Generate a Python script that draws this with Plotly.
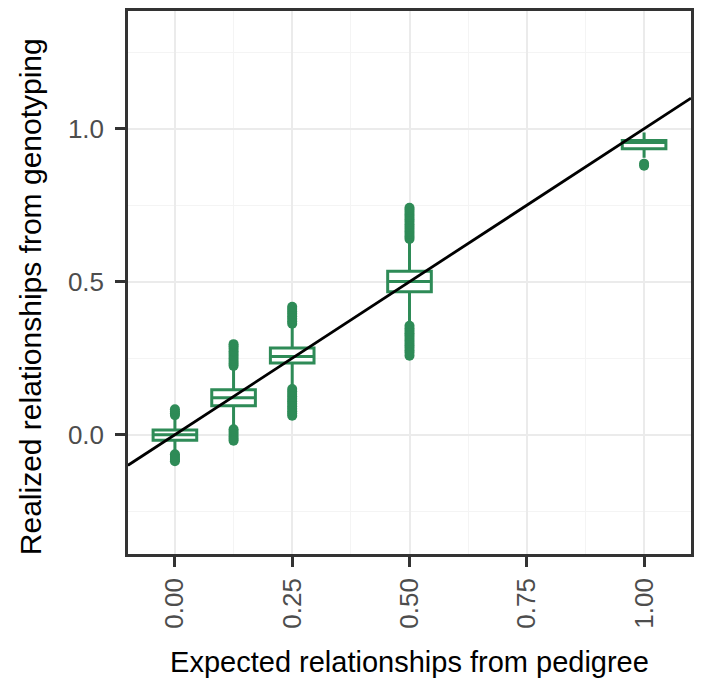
import plotly.graph_objects as go

# Expected relationship (pedigree) for each group
expected = [0.0, 0.125, 0.25, 0.5, 1.0]

# Box summaries of realized relationships (genotyping)
q1 = [-0.018, 0.095, 0.234, 0.467, 0.935]
median = [0.0, 0.121, 0.256, 0.501, 0.955]
q3 = [0.015, 0.147, 0.283, 0.534, 0.962]
lower_whisker = [-0.055, 0.030, 0.158, 0.368, 0.905]
upper_whisker = [0.056, 0.214, 0.355, 0.630, 0.988]

# Outlying realized relationships per group
outliers_0000 = [0.064, 0.070, 0.076, 0.083, -0.064, -0.070, -0.076, -0.082, -0.087]
outliers_0125 = [0.225, 0.233, 0.241, 0.249, 0.257, 0.265, 0.273, 0.281, 0.289, 0.296,
                 0.018, 0.010, 0.002, -0.006, -0.013, -0.020]
outliers_0250 = [0.363, 0.371, 0.379, 0.387, 0.395, 0.403, 0.411, 0.418,
                 0.149, 0.141, 0.133, 0.125, 0.117, 0.109, 0.101, 0.093, 0.085, 0.077,
                 0.069, 0.062]
outliers_0500 = [0.640, 0.648, 0.656, 0.664, 0.672, 0.680, 0.688, 0.696, 0.704, 0.712,
                 0.720, 0.728, 0.735, 0.742,
                 0.356, 0.348, 0.340, 0.332, 0.324, 0.316, 0.308, 0.300, 0.292, 0.284,
                 0.276, 0.268, 0.258]
outliers_1000 = [0.886, 0.879]
outliers = [outliers_0000, outliers_0125, outliers_0250, outliers_0500, outliers_1000]

GREEN = "#2E8B57"
FONT = "Liberation Sans, Arial, sans-serif"

fig = go.Figure()

# identity line y = x
line_x = [-0.1, 1.1]
fig.add_trace(go.Scatter(x=line_x, y=line_x, mode="lines",
                         line=dict(color="black", width=2.8),
                         showlegend=False, hoverinfo="skip"))

fig.add_trace(go.Box(
    x=expected, q1=q1, median=median, q3=q3,
    lowerfence=lower_whisker, upperfence=upper_whisker,
    width=0.093, whiskerwidth=0,
    fillcolor="white", line=dict(color=GREEN, width=3),
    boxpoints=False, showlegend=False,
))

out_x, out_y = [], []
for xv, vals in zip(expected, outliers):
    out_x += [xv] * len(vals)
    out_y += vals
fig.add_trace(go.Scatter(x=out_x, y=out_y, mode="markers",
                         marker=dict(color=GREEN, size=10, line=dict(width=0)),
                         showlegend=False, hoverinfo="skip"))

axis_common = dict(
    showline=True, linecolor="#333333", linewidth=2.5, mirror=True,
    ticks="outside", ticklen=10, tickwidth=3, tickcolor="#333333",
    tickfont=dict(family=FONT, size=26, color="#4D4D4D"),
    showgrid=True, gridcolor="#EBEBEB", gridwidth=1.8,
    zeroline=False,
)

fig.update_xaxes(
    range=[-0.1, 1.1], tickvals=[0, 0.25, 0.5, 0.75, 1.0],
    ticktext=["0.00", "0.25", "0.50", "0.75", "1.00"], tickangle=-90,
    ticklabelstandoff=1,
    minor=dict(tickvals=[0.125, 0.375, 0.625, 0.875], showgrid=True,
               gridcolor="#F4F4F4", gridwidth=1.2, ticks=""),
    title=dict(text="Expected relationships from pedigree",
               font=dict(family=FONT, size=29, color="black"), standoff=24),
    **axis_common,
)
fig.update_yaxes(
    range=[-0.39, 1.385], tickvals=[0, 0.5, 1.0],
    ticktext=["0.0", "0.5", "1.0"],
    ticklabelstandoff=6,
    minor=dict(tickvals=[-0.25, 0.25, 0.75, 1.25], showgrid=True,
               gridcolor="#F4F4F4", gridwidth=1.2, ticks=""),
    **axis_common,
)

# y-axis title placed as rotated text left of the tick labels
fig.add_annotation(
    text="Realized relationships from genotyping",
    xref="paper", yref="paper", x=-0.173, y=0.474,
    xanchor="center", yanchor="middle", textangle=-90, showarrow=False,
    font=dict(family=FONT, size=30, color="black"),
)

fig.update_layout(
    width=702, height=682,
    margin=dict(l=128, r=9, t=8, b=128),
    plot_bgcolor="white", paper_bgcolor="white",
    showlegend=False,
)

fig.write_html("out.html")
